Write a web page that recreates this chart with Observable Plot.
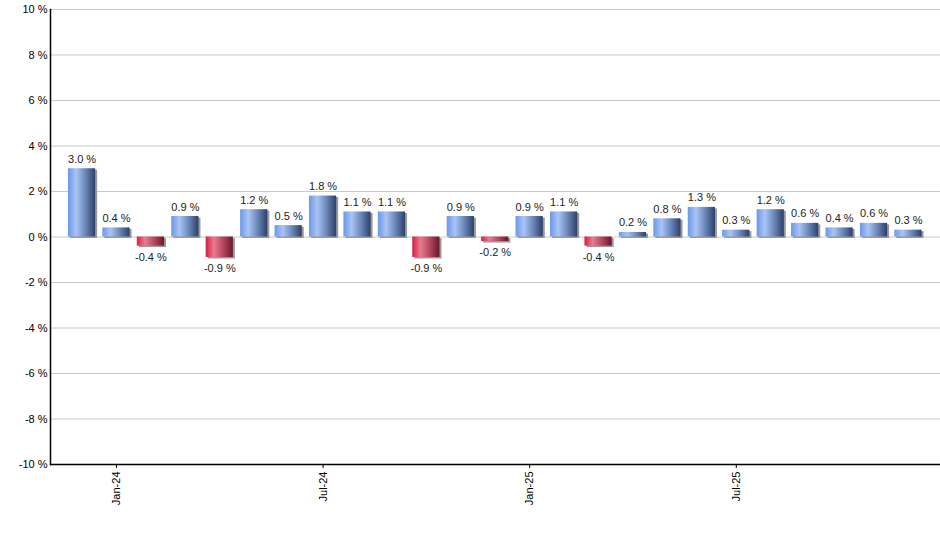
<!DOCTYPE html>
<html>
<head>
<meta charset="utf-8">
<script src="https://cdn.jsdelivr.net/npm/d3@7"></script>
<script src="https://cdn.jsdelivr.net/npm/@observablehq/plot@0.6"></script>
<style>
  html, body { margin: 0; padding: 0; background: #fff; }
  #chart svg { display: block; font-family: "Liberation Sans", Arial, sans-serif; }
</style>
</head>
<body>
<div id="chart"></div>
<script>
const months = ["Dec-23","Jan-24","Feb-24","Mar-24","Apr-24","May-24","Jun-24","Jul-24","Aug-24","Sep-24","Oct-24","Nov-24","Dec-24",
                "Jan-25","Feb-25","Mar-25","Apr-25","May-25","Jun-25","Jul-25","Aug-25","Sep-25","Oct-25","Nov-25","Dec-25"];
const values = [3.0, 0.4, -0.4, 0.9, -0.9, 1.2, 0.5, 1.8, 1.1, 1.1, -0.9, 0.9, -0.2,
                0.9, 1.1, -0.4, 0.2, 0.8, 1.3, 0.3, 1.2, 0.6, 0.4, 0.6, 0.3];
const xTickLabels = ["Jan-24", "Jul-24", "Jan-25", "Jul-25"];
const yTicks = [-10, -8, -6, -4, -2, 0, 2, 4, 6, 8, 10];

const data = months.map((m, i) => ({month: m, value: values[i]}));
const pos = data.filter(d => d.value >= 0);
const neg = data.filter(d => d.value < 0);
const fmt = d => d.value.toFixed(1) + " %";

const chart = Plot.plot({
  width: 940,
  height: 550,
  marginLeft: 50,
  marginRight: 0,
  marginTop: 9,
  marginBottom: 86,
  style: {fontFamily: "'Liberation Sans', Arial, sans-serif", fontSize: "11px", color: "#000"},
  x: {type: "band", domain: months, range: [64.5, 925], paddingInner: 0.21, paddingOuter: 0.1, round: false, label: null},
  y: {domain: [-10, 10], label: null},
  marks: [
    Plot.gridY(yTicks, {stroke: "#c8c8c8", strokeOpacity: 1, strokeWidth: 1}),
    Plot.barY(data, {x: "month", y: "value", fill: "#9a9a9a", dx: 2, dy: 1.5}),
    Plot.barY(pos, {x: "month", y: "value", fill: "url(#gradBlue)"}),
    Plot.barY(neg, {x: "month", y: "value", fill: "url(#gradRed)"}),
    Plot.text(pos, {x: "month", y: "value", text: fmt, lineAnchor: "bottom", dy: -6, fill: "#222", fontSize: 11}),
    Plot.text(neg, {x: "month", y: "value", text: fmt, lineAnchor: "top", dy: 7, fill: "#222", fontSize: 11}),
    Plot.axisY({ticks: yTicks, tickSize: 0, tickPadding: 3, tickFormat: d => d + " %", fontSize: 11, fill: "#000", label: null}),
    Plot.axisX({ticks: xTickLabels, tickSize: 4, tickPadding: 3, tickRotate: -90, fontSize: 11, fill: "#000", stroke: "#000", label: null}),
    Plot.ruleY([-10], {stroke: "#000", strokeWidth: 1.5}),
    Plot.frame({anchor: "left", stroke: "#000", strokeWidth: 1.5})
  ]
});

chart.insertAdjacentHTML("afterbegin",
  '<defs>' +
  '<linearGradient id="gradBlue" x1="0" y1="0" x2="1" y2="0">' +
  '<stop offset="0" stop-color="#6b97ea"/><stop offset="0.3" stop-color="#a9c4f5"/>' +
  '<stop offset="0.65" stop-color="#6a85b8"/><stop offset="1" stop-color="#2c3f68"/></linearGradient>' +
  '<linearGradient id="gradRed" x1="0" y1="0" x2="1" y2="0">' +
  '<stop offset="0" stop-color="#d91c45"/><stop offset="0.3" stop-color="#e77c90"/>' +
  '<stop offset="0.65" stop-color="#b2455c"/><stop offset="1" stop-color="#6a1729"/></linearGradient>' +
  '</defs>');

document.getElementById("chart").appendChild(chart);
</script>
</body>
</html>
